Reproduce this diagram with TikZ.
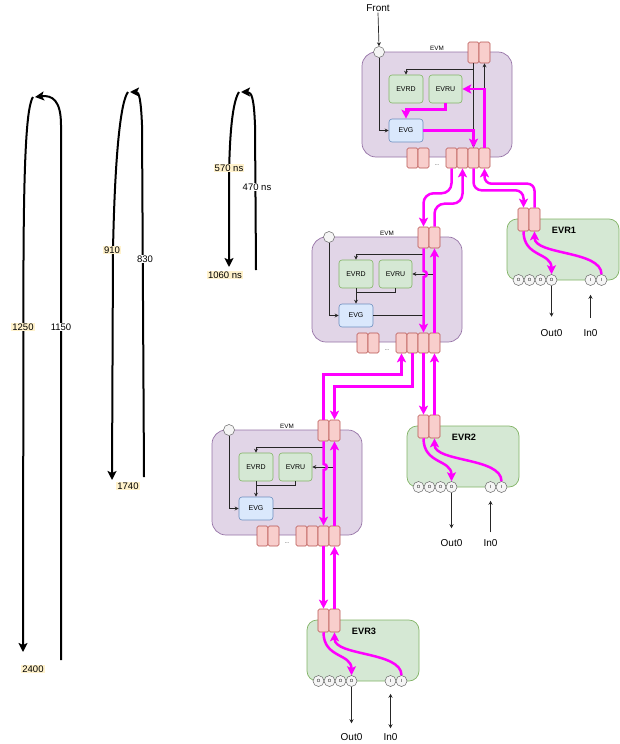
\documentclass[tikz,border=0pt]{standalone}
\usepackage{fontspec}
\setmainfont{Liberation Sans}
\usetikzlibrary{arrows.meta,calc}
\definecolor{mag}{HTML}{FF00FF}
\definecolor{evmF}{HTML}{E1D5E7}
\definecolor{evmS}{HTML}{9673A6}
\definecolor{gF}{HTML}{D5E8D4}
\definecolor{gS}{HTML}{82B366}
\definecolor{bF}{HTML}{DAE8FC}
\definecolor{bS}{HTML}{6C8EBF}
\definecolor{portF}{HTML}{F8CECC}
\definecolor{portS}{HTML}{B85450}
\definecolor{cF}{HTML}{F5F5F5}
\definecolor{cS}{HTML}{666666}
\definecolor{yel}{HTML}{FFF2CC}
\tikzset{
 evmbody/.style={draw=evmS, fill=evmF, rounded corners=14pt, minimum width=150pt, minimum height=105pt, inner sep=0pt, line width=0.7pt},
 evrbody/.style={draw=gS, fill=gF, rounded corners=10pt, minimum width=112pt, minimum height=61pt, inner sep=0pt, line width=0.7pt},
 port/.style={draw=portS, fill=portF, rounded corners=1.5pt, minimum width=11pt, inner sep=0pt, line width=0.6pt},
 gbox/.style={draw=gS, fill=gF, rounded corners=3pt, minimum height=28pt, inner sep=0pt, line width=0.6pt, font=\fontsize{7}{8}\selectfont},
 bbox/.style={draw=bS, fill=bF, rounded corners=3pt, inner sep=0pt, line width=0.6pt, font=\fontsize{7}{8}\selectfont},
 circ/.style={circle, draw=cS, fill=cF, minimum size=11pt, inner sep=0pt, line width=0.5pt, font=\fontsize{4.5}{5}\selectfont},
 thinline/.style={draw=black!85, line width=0.7pt},
 thinarrow/.style={thinline, -{Stealth[length=4pt,width=4pt]}},
 magline/.style={draw=mag, line width=2.5pt},
 magarrow/.style={magline, -{Stealth[length=9pt,width=9pt,inset=2pt]}},
 loopline/.style={line width=2pt, -{Stealth[length=9pt,width=9pt,inset=2pt]}},
 txt/.style={font=\fontsize{10}{12}\selectfont, inner sep=1pt},
 ylbl/.style={font=\fontsize{9.5}{11}\selectfont, fill=yel, inner sep=1pt},
 wlbl/.style={font=\fontsize{9.5}{11}\selectfont, fill=white, inner sep=1pt}
}
\newcommand\evmblock[3]{%
\begin{scope}[shift={(#2,#3)}]
\node[evmbody] (#1body) at (75,52.5) {};
\node[font=\fontsize{6.3}{7}\selectfont, inner sep=0pt] (#1lbl) at (75,-4) {EVM};
\node[circ] (#1circ) at (17,0) {};
\node[port, minimum height=21pt] (#1tp1) at (111.5,0.5) {};
\node[port, minimum height=21pt] (#1tp2) at (122.5,0.5) {};
\node[gbox, minimum width=34pt] (#1rd) at (44,37) {EVRD};
\node[gbox, minimum width=33pt] (#1ru) at (83.5,37) {EVRU};
\node[bbox, minimum width=34pt, minimum height=23pt] (#1g) at (44,78.5) {EVG};
\node[port, minimum height=20pt] (#1lp1) at (50.5,106) {};
\node[port, minimum height=20pt] (#1lp2) at (61.5,106) {};
\node[port, minimum height=20pt] (#1bp1) at (89.5,106) {};
\node[port, minimum height=20pt] (#1bp2) at (100.5,106) {};
\node[port, minimum height=20pt] (#1bp3) at (111.5,106) {};
\node[port, minimum height=20pt] (#1bp4) at (122.5,106) {};
\node[font=\fontsize{5}{5}\selectfont, inner sep=0pt] (#1dots) at (75,113) {...};
\end{scope}}
\newcommand\evmwire[1]{%
\draw[thinarrow] ($(#1tp1.south)+(0,6)$) -| (#1rd.north);
\draw[thinarrow] (#1rd.south) -- (#1g.north);
\draw[thinline] (#1ru.south) |- ($(#1rd.south)+(0,4)$);
\draw[thinarrow] (#1circ.south) |- (#1g.west);
\draw[thinline] (#1g.east) -- (#1g.east -| #1tp1.south);
\draw[thinarrow] (#1tp2.south |- #1ru.east) -- (#1ru.east);
\draw[magarrow] (#1tp1.south) -- ($(#1tp1.south |- #1ru.east)+(0,-3)$) .. controls +(4.5,0) and +(4.5,0) .. ($(#1tp1.south |- #1ru.east)+(0,3)$) -- (#1bp3.north);
\draw[magarrow] (#1bp4.north) -- (#1tp2.south);
}
\newcommand\evrblock[4]{%
\begin{scope}[shift={(#2,#3)}]
\node[evrbody] (#1body) at (56,30.5) {};
\node[port, minimum height=23pt] (#1tp1) at (16.5,0.5) {};
\node[port, minimum height=23pt] (#1tp2) at (27.5,0.5) {};
\node[font=\bfseries\fontsize{9.2}{10}\selectfont, inner sep=0pt] (#1lbl) at (57,11) {#4};
\node[circ] (#1o1) at (11.5,61) {O};
\node[circ] (#1o2) at (22.5,61) {O};
\node[circ] (#1o3) at (33.5,61) {O};
\node[circ] (#1o4) at (44.5,61) {O};
\node[circ] (#1i1) at (83.5,61) {I};
\node[circ] (#1i2) at (94.5,61) {I};
\draw[magarrow] (#1tp1.south) .. controls +(0,26) and +(0,-22) .. (#1o4.north);
\draw[magarrow] (#1i2.north) .. controls +(0,-24) and +(0,24) .. (#1tp2.south);
\end{scope}}
\begin{document}
\begin{tikzpicture}[x=1pt,y=-1pt]
\useasboundingbox (0,0) rectangle (619,744);
% timing loops
\draw[loopline] (61,660) -- (61,125) .. controls (61,100) and (52,95) .. (35,97);
\draw[loopline] (33,97) .. controls (27,106) and (24,150) .. (23.5,260) -- (23,652);
\draw[loopline] (144,477) -- (142,125) .. controls (141,100) and (139,92) .. (130,92);
\draw[loopline] (128,92) .. controls (121,101) and (115,150) .. (113,250) -- (112,480);
\draw[loopline] (256,270) -- (255,125) .. controls (254,100) and (252,92) .. (241,92);
\draw[loopline] (239,92) .. controls (233,101) and (229.5,130) .. (229,180) -- (229,267);
\node[ylbl] (t1250) at (23,327) {1250};
\node[wlbl] (t1150) at (61,327) {1150};
\node[ylbl] (t2400) at (33,669) {2400};
\node[ylbl] (t910) at (112,250) {910};
\node[wlbl] (t830) at (145,259) {830};
\node[ylbl] (t1740) at (128,486) {1740};
\node[ylbl] (t570) at (229,168) {570 ns};
\node[wlbl] (t470) at (257,187) {470 ns};
\node[ylbl] (t1060) at (225,275) {1060 ns};
% blocks
\evmblock{e1}{362}{52}
\evmblock{e2}{312}{237}
\evmblock{e3}{212}{430}
\evrblock{r1}{507}{219}{EVR1}
\evrblock{r2}{407}{426}{EVR2}
\evrblock{r3}{307}{620}{EVR3}
% front
\node[txt] (front) at (378,8) {Front};
\draw[thinarrow] (front.south) -- (e1circ.north);
% EVM1 internal wiring
\draw[thinarrow] (e1tp1.south) -- (e1bp3.north);
\draw[thinarrow] ($(e1tp1.south)+(0,6)$) -| (e1rd.north);
\draw[thinarrow] (e1circ.south) |- (e1g.west);
\draw[thinarrow] (e1bp4.north) -- (e1tp2.south);
\draw[magarrow] (e1ru.south) -- ++(0,6) -| (e1g.north);
\draw[magarrow] (e1g.east) -| (e1bp3.north);
\draw[magarrow] (e1bp4.north) |- (e1ru.east);
% EVM2, EVM3 internal wiring
\evmwire{e2}
\evmwire{e3}
% EVM1 <-> EVM2, EVR1
\draw[magarrow, rounded corners=10pt] (e1bp1.south) -- ++(0,25) -| (e2tp1.north);
\draw[magarrow, rounded corners=10pt] (e2tp2.north) -- ++(0,-23) -| (e1bp2.south);
\draw[magarrow, rounded corners=8pt] (e1bp3.south) -- ++(0,22) -| (r1tp1.north);
\draw[magarrow, rounded corners=7pt] (r1tp2.north) -- ++(0,-24) -| (e1bp4.south);
% EVM2 <-> EVM3, EVR2
\draw[magarrow] (e3tp1.north) -- ++(0,-45) -| (e2bp1.south);
\draw[magarrow] (e2bp2.south) -- ++(0,33) -| (e3tp2.north);
\draw[magarrow] (e2bp3.south) -- (r2tp1.north);
\draw[magarrow] (r2tp2.north) -- (e2bp4.south);
% EVM3 <-> EVR3
\draw[magarrow] (e3bp3.south) -- (r3tp1.north);
\draw[magarrow] (r3tp2.north) -- (e3bp4.south);
% Out0 / In0
\node[txt] (r1out) at (551.5,333) {Out0};
\node[txt] (r1in) at (590.5,333) {In0};
\draw[thinarrow] (r1o4.south) -- ++(0,31);
\draw[thinarrow] ($(r1i1.south)+(0,32)$) -- ($(r1i1.south)+(0,9)$);
\node[txt] (r2out) at (451.5,543) {Out0};
\node[txt] (r2in) at (490.5,543) {In0};
\draw[thinarrow] (r2o4.south) -- ++(0,35.5);
\draw[thinarrow] ($(r2i1.south)+(0,39.5)$) -- ($(r2i1.south)+(0,8)$);
\node[txt] (r3out) at (351.5,737) {Out0};
\node[txt] (r3in) at (390.5,737) {In0};
\draw[thinarrow] (r3o4.south) -- ++(0,36.5);
\draw[thinline, {Stealth[length=4pt,width=4pt]}-{Stealth[length=4pt,width=4pt]}] ($(r3i1.south)+(0,7)$) -- ($(r3i1.south)+(0,41.5)$);
\end{tikzpicture}
\end{document}
